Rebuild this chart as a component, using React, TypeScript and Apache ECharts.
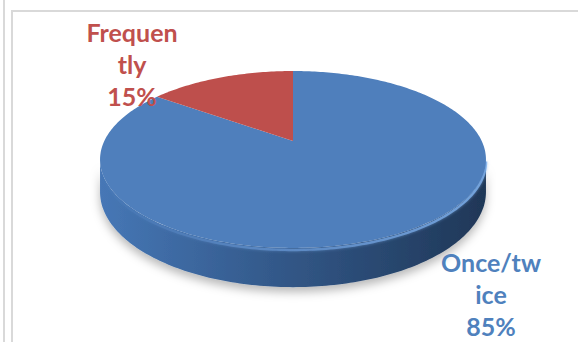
import React, { useEffect, useRef } from "react";
import * as echarts from "echarts";

const categories: string[] = ["Once/twice", "Frequently"];
const values: number[] = [85, 15];
const sliceColors: string[] = ["#4f7fbc", "#be4f4c"];
const labelColors: string[] = ["#4f81bd", "#c0504d"];

// Label anchors (centre x, top y) per slice
const LABEL_POS: number[][] = [
  [491, 246],
  [132, 16],
];

// 3D pie projection parameters
const CX = 293;
const CY = 141;
const A = 188.7;
const B = 84.6;
const P = 0.209;
const T = 31;

function proj(th: number, drop: boolean): number[] {
  const u = Math.sin(th);
  const v = Math.cos(th);
  const w = 1 + P * v;
  return [CX + (A * u) / w, CY - (B * v) / w + (drop ? T / w : 0)];
}

function arc(a: number, b: number, drop: boolean): number[][] {
  const n = Math.max(2, Math.ceil((b - a) / (Math.PI / 180)));
  const pts: number[][] = [];
  for (let k = 0; k <= n; k++) pts.push(proj(a + ((b - a) * k) / n, drop));
  return pts;
}

function wrap(s: string, n: number): string {
  const out: string[] = [];
  for (let i = 0; i < s.length; i += n) out.push(s.slice(i, i + n));
  return out.join("\n");
}

export default function App() {
  const ref = useRef<HTMLDivElement>(null);
  useEffect(() => {
    document.body.style.margin = "0";
    const chart = echarts.init(ref.current!, null, { renderer: "svg" });
    const total = values.reduce((s, v) => s + v, 0);
    const thR = Math.acos(-P);
    const thL = 2 * Math.PI - thR;

    const renderItem = (params: any, api: any) => {
      const i = params.dataIndex;
      let before = 0;
      for (let k = 0; k < i; k++) before += values[k];
      const v = api.value(0);
      const a = (2 * Math.PI * before) / total;
      const b = (2 * Math.PI * (before + v)) / total;
      const children: any[] = [];
      // side face (front visible part)
      const sa = Math.max(a, thR);
      const sb = Math.min(b, thL);
      if (sb > sa) {
        const top = arc(sa, sb, false);
        const bot = arc(sa, sb, true).reverse();
        const baseColor = sliceColors[i];
        children.push({
          type: "polygon",
          shape: { points: top.concat(bot) },
          style: {
            fill: new echarts.graphic.LinearGradient(0, 0, 1, 0, [
              { offset: 0, color: i === 0 ? "#4677b6" : baseColor },
              { offset: 0.45, color: i === 0 ? "#33598a" : baseColor },
              { offset: 1, color: i === 0 ? "#1f3757" : baseColor },
            ]),
            shadowBlur: 10,
            shadowColor: "rgba(0,0,0,0.28)",
            shadowOffsetY: 5,
          },
        });
        // rim highlight
        children.push({
          type: "polyline",
          shape: { points: arc(sa, sb, false).map((p) => [p[0], p[1] + 2]) },
          style: {
            fill: null,
            lineWidth: 2.5,
            stroke: new echarts.graphic.LinearGradient(1, 0, 0, 0, [
              { offset: 0, color: "rgba(125,175,235,0.85)" },
              { offset: 0.6, color: "rgba(110,160,225,0.5)" },
              { offset: 1, color: "rgba(110,160,225,0)" },
            ]),
            shadowBlur: 3,
            shadowColor: "rgba(125,175,235,0.7)",
          },
        });
      }
      // top face
      children.push({
        type: "polygon",
        shape: { points: [[CX, CY]].concat(arc(a, b, false)) },
        style: { fill: sliceColors[i] },
      });
      // label
      const pct = Math.round((v / total) * 100) + "%";
      children.push({
        type: "text",
        x: LABEL_POS[i][0],
        y: LABEL_POS[i][1],
        style: {
          text: wrap(categories[i], 7) + "\n" + pct,
          fill: labelColors[i],
          font: "bold 25px Lato, 'Open Sans', sans-serif",
          lineHeight: 32,
          align: "center",
          verticalAlign: "top",
        },
      });
      return { type: "group", children };
    };

    chart.setOption({
      animation: false,
      backgroundColor: "#ffffff",
      graphic: [
        { type: "line", shape: { x1: 4, y1: 0, x2: 4, y2: 342 }, style: { stroke: "#d9d9d9", lineWidth: 2 } },
        { type: "line", shape: { x1: 12, y1: 10, x2: 12, y2: 342 }, style: { stroke: "#d9d9d9", lineWidth: 2 } },
        { type: "line", shape: { x1: 11, y1: 11, x2: 578, y2: 11 }, style: { stroke: "#d9d9d9", lineWidth: 2 } },
      ],
      series: [
        {
          type: "custom",
          coordinateSystem: "none",
          renderItem,
          data: values.map((v, i) => ({ value: [v], name: categories[i] })),
        },
      ],
    });
    return () => chart.dispose();
  }, []);
  return <div ref={ref} style={{ width: 578, height: 342 }} />;
}
